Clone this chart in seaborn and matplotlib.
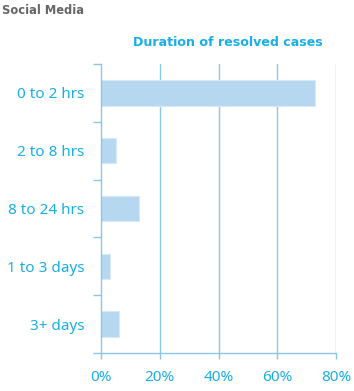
import matplotlib
matplotlib.use("Agg")
import matplotlib.pyplot as plt
import seaborn as sns
import pandas as pd
import numpy as np

categories = ["0 to 2 hrs", "2 to 8 hrs", "8 to 24 hrs", "1 to 3 days", "3+ days"]
values = [73, 5, 13, 3, 6]
x_ticks = [0, 20, 40, 60, 80]
x_tick_labels = ["0%", "20%", "40%", "60%", "80%"]

df = pd.DataFrame({"category": categories, "value": values})

sns.set_style("white")
plt.rcParams["font.family"] = ["Noto Sans", "DejaVu Sans"]

text_c = "#1aaee6"
line_c = "#8cc6e6"
bar_c = "#b5d8f0"

fig = plt.figure(figsize=(3.54, 3.91), dpi=100)
ax = fig.add_axes([101/354, 1-353/391, (336-101)/354, (353-64)/391])

sns.barplot(data=df, y="category", x="value", orient="h", color=bar_c,
            width=0.44, saturation=1, ax=ax, edgecolor="#d8eaf6", linewidth=0.8,
            zorder=3)

ax.set_xlim(0, 80)
ax.set_ylim(len(categories) - 0.5, -0.5)
ax.set_xticks(x_ticks)
ax.set_xticklabels(x_tick_labels)
ax.set_xlabel("")
ax.set_ylabel("")

# category boundary ticks on y
ax.set_yticks(np.arange(-0.5, len(categories), 1.0))
ax.set_yticklabels([])
ax.set_yticks(np.arange(len(categories)), minor=True)
ax.set_yticklabels(categories, minor=True)
ax.tick_params(axis="y", which="major", left=True, length=5.5, color=line_c, width=1,
               direction="out")
ax.tick_params(axis="y", which="minor", left=False, length=0, pad=12, labelsize=11,
               labelcolor=text_c)
ax.tick_params(axis="x", which="major", bottom=True, length=4, color=line_c, width=1,
               direction="out", labelsize=11, labelcolor=text_c, pad=8)

for xv in x_ticks[1:]:
    ax.axvline(xv, color=line_c, lw=1, zorder=1)

for s in ["top", "right"]:
    ax.spines[s].set_visible(False)
for s in ["left", "bottom"]:
    ax.spines[s].set_color(line_c)
    ax.spines[s].set_linewidth(1)
    ax.spines[s].set_zorder(4)

fig.text(2/354, 1-11/391, "Social Media", fontsize=8.3, fontweight="bold",
         color="#666666", ha="left", va="center", family="DejaVu Sans")
fig.text(228/354, 1-42/391, "Duration of resolved cases", fontsize=9.1,
         fontweight="bold", color=text_c, ha="center", va="center", family="DejaVu Sans")

fig.savefig("out.png", dpi=100)
